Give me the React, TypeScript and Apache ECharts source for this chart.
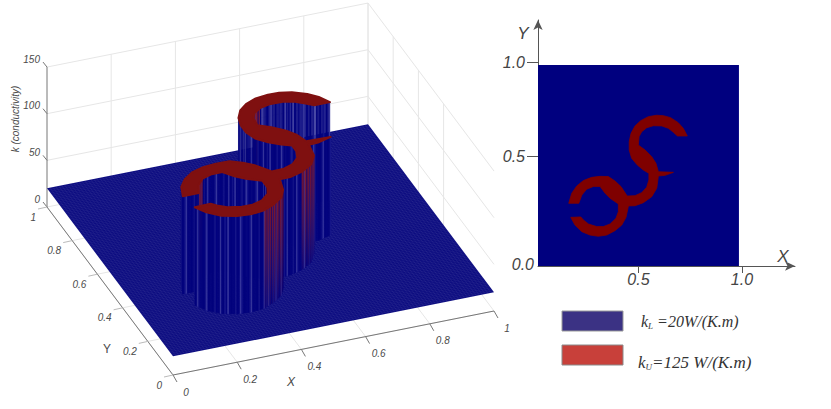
import React, { useEffect, useRef } from "react";
import * as echarts from "echarts";

// Values
const kLower = 20;
const kUpper = 125;
const zTicks = [0, 50, 100, 150];
const floorTicks = [0, 0.2, 0.4, 0.6, 0.8, 1];
const backWallXTicks = [0.2, 0.4, 0.6, 0.8, 1];
const sideWallYTicks = [0.4, 0.6, 0.8, 1];
const mapXTicks = [0.5, 1.015];
const mapYTicks = [0.547, 1.015];
// Outline of the high conductivity region, in (X, Y), counter-clockwise
const sOutline: number[][] = [
  [0.743, 0.647], [0.723, 0.685], [0.698, 0.713], [0.66, 0.738], [0.624, 0.748], [0.59, 0.75],
  [0.549, 0.743], [0.511, 0.723], [0.483, 0.697], [0.463, 0.66], [0.454, 0.619], [0.454, 0.577],
  [0.466, 0.536], [0.494, 0.503], [0.524, 0.478], [0.552, 0.461], [0.552, 0.428], [0.541, 0.392],
  [0.516, 0.365], [0.483, 0.35], [0.444, 0.348], [0.413, 0.395], [0.383, 0.423], [0.35, 0.445],
  [0.309, 0.446], [0.267, 0.441], [0.226, 0.425], [0.193, 0.398], [0.168, 0.362], [0.153, 0.312],
  [0.203, 0.312], [0.218, 0.353], [0.242, 0.382], [0.276, 0.396], [0.309, 0.396], [0.334, 0.362],
  [0.359, 0.337], [0.4, 0.309], [0.4, 0.27], [0.388, 0.237], [0.359, 0.209], [0.325, 0.196],
  [0.292, 0.196], [0.251, 0.209], [0.226, 0.229], [0.213, 0.244], [0.163, 0.242], [0.184, 0.204],
  [0.218, 0.171], [0.259, 0.154], [0.3, 0.148], [0.342, 0.154], [0.383, 0.176], [0.417, 0.204],
  [0.438, 0.242], [0.45, 0.299], [0.483, 0.3], [0.524, 0.315], [0.566, 0.345], [0.591, 0.387],
  [0.599, 0.448], [0.632, 0.451], [0.674, 0.466], [0.599, 0.469], [0.587, 0.511], [0.566, 0.544],
  [0.533, 0.577], [0.499, 0.602], [0.503, 0.644], [0.516, 0.668], [0.541, 0.688], [0.574, 0.698],
  [0.616, 0.697], [0.649, 0.685], [0.674, 0.665], [0.694, 0.647],
];
// Shade sequence of the wall's mesh columns: 0 dark, 1 mid, 2 pale
const wallShades = [0, 0, 1, 0, 0, 0, 2, 0, 0, 1, 0, 2, 0, 0, 0, 0, 1, 0, 0, 2, 1, 0, 0, 0, 0, 0, 1, 2, 0, 0, 0];
const wallColors = ["#04047f", "#16168a", "#3a3a9e"];

const project = (x: number, y: number, z: number): number[] => [
  173 + 321 * x - 126 * y,
  375 - 64 * x - 168 * y - 0.933 * z,
];
const LABEL_FONT = "italic 10px 'Liberation Sans'";
const line = (a: number[], b: number[], stroke: string, lineWidth = 1) => ({
  type: "line",
  shape: { x1: a[0], y1: a[1], x2: b[0], y2: b[1] },
  style: { stroke, lineWidth },
});
const label = (text: string, x: number, y: number, align = "center", font = LABEL_FONT) => ({
  type: "text",
  style: { text, x, y, font, fill: "#4a4a4a", align, verticalAlign: "middle" },
});

function renderFrame() {
  const grid = "#e6e6e6";
  const axis = "#777777";
  const out: any[] = [];
  zTicks.slice(1).forEach((z) => {
    out.push(line(project(0, 1, z), project(1, 1, z), grid));
    out.push(line(project(1, 1, z), project(1, 0, z), grid));
  });
  backWallXTicks.forEach((x) => out.push(line(project(x, 1, 0), project(x, 1, 150), grid)));
  sideWallYTicks.forEach((y) => out.push(line(project(1, y, 0), project(1, y, 150), grid)));
  floorTicks.forEach((t) => {
    out.push(line(project(t, 0, 0), project(t, 1, 0), grid));
    out.push(line(project(0, t, 0), project(1, t, 0), grid));
  });
  out.push(line(project(0, 0, 0), project(1, 0, 0), axis));
  out.push(line(project(0, 0, 0), project(0, 1, 0), axis));
  out.push(line(project(0, 1, 0), project(0, 1, 150), axis));
  zTicks.forEach((z) => {
    const p = project(0, 1, z);
    out.push(line(p, [p[0] - 4, p[1] - 5], axis));
    out.push(label(String(z), p[0] - 7, p[1] - 8, "right"));
  });
  floorTicks.forEach((t) => {
    const px = project(t, 0, 0);
    out.push(line(px, [px[0] + 4, px[1] + 7], axis));
    out.push(label(String(t), px[0] + 13, px[1] + 17));
    const py = project(0, t, 0);
    out.push(line(py, [py[0] - 9, py[1] + 2], "#bbbbbb"));
    out.push(label(String(t), py[0] - 11, py[1] + 10, "right"));
  });
  out.push(label("X", 291, 382, "center", "italic 12px 'Liberation Sans'"));
  out.push(label("Y", 107, 349, "center", "12px 'Liberation Sans'"));
  out.push({
    type: "text",
    x: 15,
    y: 119,
    rotation: Math.PI / 2,
    style: {
      text: "k (conductivity)",
      x: 0,
      y: 0,
      font: LABEL_FONT,
      fill: "#4a4a4a",
      align: "center",
      verticalAlign: "middle",
    },
  });
  return { type: "group", children: out };
}

function renderPlate() {
  const corners = [[0, 0], [1, 0], [1, 1], [0, 1]].map((c) => project(c[0], c[1], kLower));
  const out: any[] = [
    { type: "polygon", shape: { points: corners }, style: { fill: "#0b0b80" } },
  ];
  const cells = 110;
  for (let i = 1; i < cells; i++) {
    const t = i / cells;
    const col = "rgba(110,110,175,0.28)";
    out.push(line(project(t, 0, kLower), project(t, 1, kLower), col, 0.5));
    out.push(line(project(0, t, kLower), project(1, t, kLower), col, 0.5));
  }
  return { type: "group", children: out };
}

function renderWalls() {
  const step = 0.0045;
  const strips: any[] = [];
  let counter = 0;
  sOutline.forEach((a, i) => {
    const b = sOutline[(i + 1) % sOutline.length];
    const dx = b[0] - a[0];
    const dy = b[1] - a[1];
    const len = Math.hypot(dx, dy);
    const facing = (dy / len) * -0.365 + (-dx / len) * -0.93;
    if (facing <= 0) return;
    const rightSide = dy / len > 0;
    const n = Math.max(1, Math.ceil(len / step));
    for (let s = 0; s < n; s++) {
      const p = [a[0] + (dx * s) / n, a[1] + (dy * s) / n];
      const q = [a[0] + (dx * (s + 1)) / n, a[1] + (dy * (s + 1)) / n];
      counter += 1;
      const shade = wallShades[counter % wallShades.length];
      const fill = wallColors[shade];
      const points = [
        project(p[0], p[1], kUpper),
        project(q[0], q[1], kUpper),
        project(q[0], q[1], kLower),
        project(p[0], p[1], kLower),
      ];
      const d = 0.365 * p[0] + 0.93 * p[1];
      strips.push({
        d,
        el: { type: "polygon", shape: { points }, style: { fill, stroke: fill, lineWidth: 0.4 } },
      });
      // grazing faces: cells squeeze together, colours bleed down the wall
      const bleed = rightSide ? facing < 0.65 && counter % 2 === 0 : facing < 0.55 && shade !== 0;
      if (bleed) {
        const top = rightSide ? "rgba(150,25,25,0.95)" : "rgba(120,120,170,0.55)";
        const bottom = rightSide ? "rgba(130,40,70,0.08)" : "rgba(120,120,170,0.1)";
        const paint = {
          type: "linear", x: 0, y: 0, x2: 0, y2: 1,
          colorStops: [{ offset: 0, color: top }, { offset: 1, color: bottom }],
        };
        strips.push({
          d: d - 1e-6,
          el: {
            type: "polygon",
            shape: { points },
            style: { fill: paint, stroke: rightSide ? paint : undefined, lineWidth: 0.8 },
          },
        });
      }
    }
  });
  strips.sort((u, v) => v.d - u.d);
  return { type: "group", children: strips.map((s) => s.el) };
}

function renderCap() {
  return {
    type: "polygon",
    shape: { points: sOutline.map((p) => project(p[0], p[1], kUpper)) },
    style: { fill: "#7f1010", stroke: "#7f1010", lineWidth: 2, lineJoin: "round" },
  };
}

function renderMap(_: any, api: any) {
  const c = (p: number[]) => api.coord(p);
  return {
    type: "group",
    children: [
      {
        type: "polygon",
        shape: { points: [[0, 0], [1, 0], [1, 1], [0, 1]].map(c) },
        style: { fill: "#00007f" },
      },
      {
        type: "polygon",
        shape: { points: sOutline.map(c) },
        style: { fill: "#7f0000", stroke: "#7f0000", lineWidth: 0.8, lineJoin: "round" },
      },
    ],
  };
}

const noneSeries = (renderItem: any) => ({
  type: "custom",
  coordinateSystem: "none",
  silent: true,
  clip: false,
  data: [[0]],
  renderItem,
});

const legendText = (text: string, x: number, y: number, size: number) => ({
  type: "text",
  x,
  y,
  style: {
    text,
    x: 0,
    y: 0,
    verticalAlign: "middle",
    fill: "#333333",
    font: `italic ${size}px 'Liberation Serif'`,
    rich: {
      k: { font: `italic ${size}px 'Liberation Serif'`, fill: "#333333" },
      s: { font: "italic 9px 'Liberation Serif'", fill: "#333333", padding: [9, 0, 0, 0] },
    },
  },
});

const titleFont = "italic 17px 'Liberation Sans'";
const mapAxisBase = {
  type: "value",
  min: 0,
  splitLine: { show: false },
  axisLine: {
    show: true,
    symbol: ["none", "arrow"],
    symbolSize: [7, 10],
    lineStyle: { color: "#555555", width: 1 },
  },
};

export default function App() {
  const ref = useRef<HTMLDivElement>(null);
  useEffect(() => {
    const chart = echarts.init(ref.current!, undefined, { renderer: "svg" });
    chart.setOption({
      animation: false,
      backgroundColor: "#ffffff",
      grid: { left: 538, top: 20, width: 257, height: 246 },
      xAxis: {
        ...mapAxisBase,
        max: 1.279,
        axisTick: { show: true, length: 7, customValues: mapXTicks, lineStyle: { color: "#555555" } },
        axisLabel: {
          customValues: mapXTicks,
          formatter: (v: number) => v.toFixed(1),
          margin: 5,
          fontStyle: "italic",
          fontFamily: "Liberation Sans",
          fontSize: 16,
          color: "#444444",
        },
      },
      yAxis: {
        ...mapAxisBase,
        max: 1.224,
        axisTick: { show: true, length: 11, customValues: mapYTicks, lineStyle: { color: "#555555" } },
        axisLabel: {
          customValues: mapYTicks,
          formatter: (v: number) => v.toFixed(1),
          margin: 13,
          fontStyle: "italic",
          fontFamily: "Liberation Sans",
          fontSize: 16,
          color: "#444444",
        },
      },
      graphic: [
        { type: "text", style: { text: "X", x: 783, y: 256, font: titleFont, fill: "#444444", align: "center", verticalAlign: "middle" } },
        { type: "text", style: { text: "Y", x: 523, y: 33, font: titleFont, fill: "#444444", align: "center", verticalAlign: "middle" } },
        { type: "text", style: { text: "0.0", x: 534, y: 264, font: "italic 16px 'Liberation Sans'", fill: "#444444", align: "right", verticalAlign: "middle" } },
        { type: "rect", shape: { x: 562, y: 311, width: 61, height: 20 }, style: { fill: "#3b3284", stroke: "#9a9a9a", lineWidth: 1 } },
        { type: "rect", shape: { x: 562, y: 345, width: 61, height: 20 }, style: { fill: "#c8403a", stroke: "#8a8a8a", lineWidth: 1 } },
        legendText("{k|k}{s|L}{k| =20W/(K.m)}", 641, 321, 16),
        legendText("{k|k}{s|U}{k|=125 W/(K.m)}", 638, 362, 17),
      ],
      series: [
        noneSeries(renderFrame),
        noneSeries(renderPlate),
        noneSeries(renderWalls),
        noneSeries(renderCap),
        {
          type: "custom",
          coordinateSystem: "cartesian2d",
          silent: true,
          clip: false,
          data: [[0, 0]],
          encode: { x: 0, y: 1 },
          renderItem: renderMap,
        },
      ],
    });
    return () => chart.dispose();
  }, []);
  return (
    <div
      ref={ref}
      style={{ position: "fixed", left: 0, top: 0, width: 831, height: 409, background: "#fff" }}
    />
  );
}
